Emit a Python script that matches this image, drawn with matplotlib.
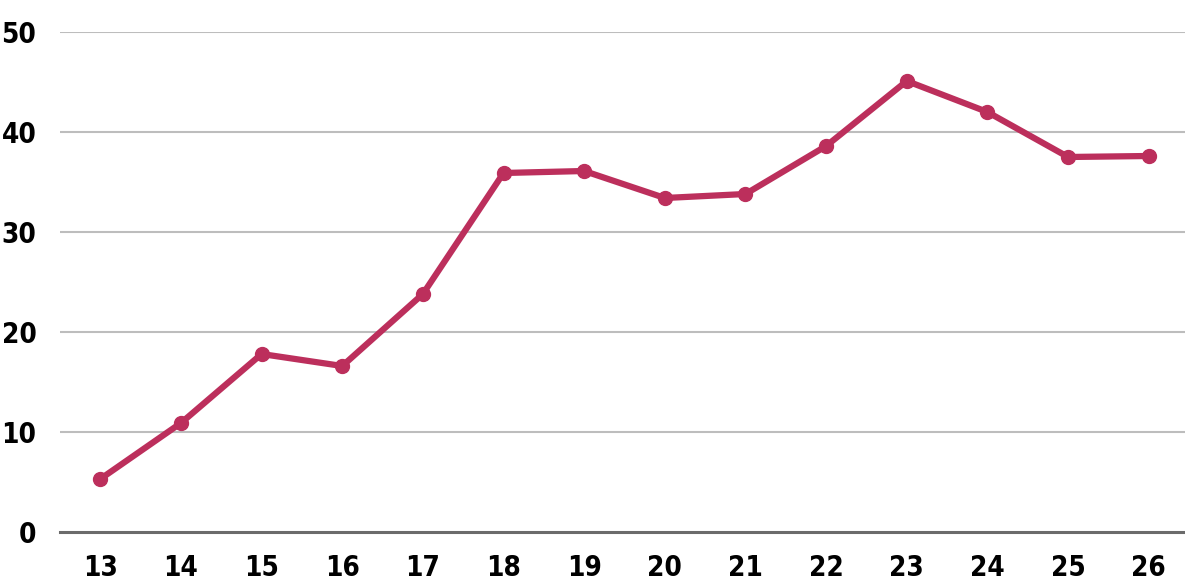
import matplotlib
matplotlib.use('Agg')
import matplotlib.pyplot as plt
from matplotlib import font_manager

# Dados
categories = ['13', '14', '15', '16', '17', '18', '19', '20', '21', '22', '23', '24', '25', '26']
values = [5.3, 10.9, 17.8, 16.6, 23.8, 35.9, 36.1, 33.4, 33.8, 38.6, 45.1, 42.0, 37.5, 37.6]
y_ticks = [0, 10, 20, 30, 40, 50]

line_color = '#bc2f5c'

plt.rcParams['font.family'] = ['DejaVu Sans']
cond = [f.fname for f in font_manager.fontManager.ttflist
        if 'Condensed' in f.fname and 'Bold' in f.fname and 'DejaVuSans' in f.fname
        and 'Oblique' not in f.fname]

fig = plt.figure(figsize=(11.85, 5.81), dpi=100)
ax = fig.add_axes([60 / 1185, 1 - 532 / 581, 1 - 60 / 1185, 500 / 581])

x = list(range(len(categories)))
ax.plot(x, values, color=line_color, linewidth=4.5, marker='o', markersize=10,
        solid_joinstyle='round', zorder=3)

ax.set_ylim(0, 50)
ax.set_xlim(-0.5, len(categories) - 1 + 0.45)
ax.set_yticks(y_ticks)
ax.set_xticks(x)
ax.set_xticklabels(categories)

for t in y_ticks[1:]:
    ax.axhline(t, color='#bdbdbd', linewidth=1.5, zorder=1)
ax.axhline(0, color='#6b6b6b', linewidth=2.2, zorder=2, clip_on=False)

for s in ax.spines.values():
    s.set_visible(False)
ax.tick_params(axis='both', length=0, labelsize=20, colors='black')
ax.tick_params(axis='y', pad=17)
ax.tick_params(axis='x', pad=16)
for lbl in ax.get_xticklabels() + ax.get_yticklabels():
    lbl.set_fontweight('bold')
    if cond:
        lbl.set_fontproperties(font_manager.FontProperties(fname=cond[0], size=20))

fig.savefig('out.png', dpi=100, facecolor='white')
